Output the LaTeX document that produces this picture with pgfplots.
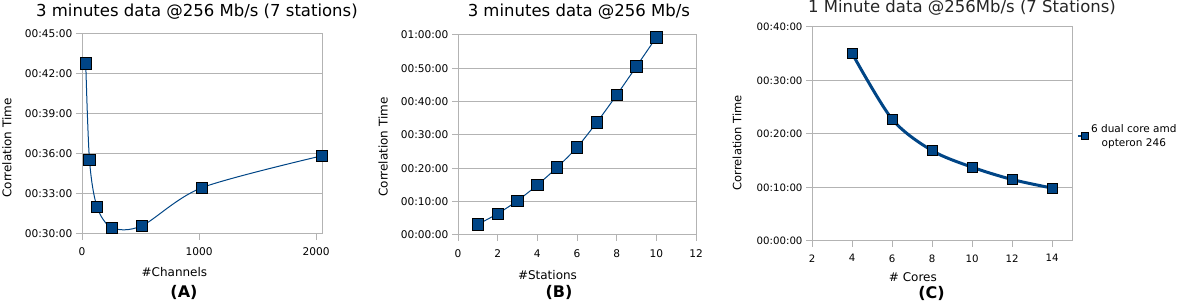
\documentclass[border=0pt]{standalone}
\usepackage{pgfplots}
\pgfplotsset{compat=1.18}
\usepackage{fontspec}
\setmainfont{DejaVu Sans}
\definecolor{ooblue}{HTML}{004586}
\definecolor{oogrid}{HTML}{B3B3B3}
\newcommand{\fs}[1]{\fontsize{#1bp}{#1bp}\selectfont}
\pgfplotsset{
  panel/.style={
    scale only axis, anchor=south west, clip=false,
    axis line style={oogrid, line width=1bp},
    ymajorgrids, grid style={oogrid, line width=1bp},
    major tick style={oogrid, line width=1bp},
    tick align=outside, tick pos=left, major tick length=6bp,
    /pgf/number format/assume math mode=true,
    /pgf/number format/1000 sep={},
    scaled ticks=false,
    tick label style={font=\fs{10.6}, text=black},
    label style={font=\fs{12}},
    title style={font=\fs{16.5}},
  },
  mk/.style={color=ooblue, line width=1bp, smooth, mark=square*,
    mark options={fill=ooblue, draw=black, line width=0.8bp, solid}, mark size=5.7bp},
}
\begin{document}
\begin{tikzpicture}
\path[use as bounding box] (0,0) rectangle (1185bp,305bp);
% ---------------- (A)
\begin{axis}[panel, at={(82bp,71bp)}, width=240bp, height=200bp,
  xmin=0, xmax=2051, ymin=30, ymax=45,
  xtick={0,1000,2000}, ytick={30,33,36,39,42,45},
  yticklabels={00:30:00,00:33:00,00:36:00,00:39:00,00:42:00,00:45:00},
  xticklabel style={yshift=-4bp},
  title={3 minutes data @256 Mb/s (7 stations)},
  title style={at={(axis description cs:0.479,1)}, anchor=center, yshift=16bp},
  xlabel={\#Channels},
  xlabel style={at={(axis description cs:0.385,0)}, anchor=center, yshift=-38bp},
  ylabel={Correlation Time},
  ylabel style={at={(axis description cs:-0.3125,0.43)}, anchor=center},
]
\addplot[mk] coordinates {(32,42.8) (64,35.54) (128,32.05) (256,30.47) (512,30.62) (1024,33.47) (2048,35.86)};
\node[font=\bfseries\fs{16}] at (axis description cs:0.425,0) [yshift=-58bp] {(A)};
\end{axis}
% ---------------- (B)
\begin{axis}[panel, at={(458bp,70bp)}, width=238bp, height=200bp,
  xmin=0, xmax=12, ymin=0, ymax=60,
  xtick={0,2,...,12}, ytick={0,10,...,60},
  yticklabels={00:00:00,00:10:00,00:20:00,00:30:00,00:40:00,00:50:00,01:00:00},
  xticklabel style={yshift=-5bp},
  title={3 minutes data @256 Mb/s},
  title style={at={(axis description cs:0.508,1)}, anchor=center, yshift=17bp},
  xlabel={\#Stations},
  xlabel style={at={(axis description cs:0.376,0)}, anchor=center, yshift=-40bp},
  ylabel={Correlation Time},
  ylabel style={at={(axis description cs:-0.315,0.44)}, anchor=center},
]
\addplot[mk] coordinates {(1,3.2) (2,6.4) (3,10.3) (4,15.0) (5,20.3) (6,26.3) (7,33.8) (8,42.0) (9,50.6) (10,59.3)};
\node[font=\bfseries\fs{16}] at (axis description cs:0.424,0) [yshift=-57bp] {(B)};
\end{axis}
% ---------------- (C)
\begin{axis}[panel, at={(812bp,64bp)}, width=260bp, height=214bp,
  xmin=2, xmax=15, ymin=0, ymax=40,
  xtick={2,4,...,14}, ytick={0,10,...,40},
  tick label style={font=\fs{10.2}},
  yticklabels={00:00:00,00:10:00,00:20:00,00:30:00,00:40:00},
  xticklabel style={yshift=-4bp},
  title={1 Minute data @256Mb/s (7 Stations)},
  title style={at={(axis description cs:0.577,1)}, anchor=center, yshift=13.5bp, text=black!85},
  xlabel={\# Cores},
  xlabel style={at={(axis description cs:0.388,0)}, anchor=center, yshift=-36bp},
  ylabel={Correlation Time},
  ylabel style={at={(axis description cs:-0.288,0.46)}, anchor=center, font=\fs{11.5}},
  legend style={at={(axis description cs:1.017,0.49)}, anchor=west, draw=none, fill=none,
    font=\fontsize{10.5bp}{14.5bp}\selectfont, cells={align=center}, inner sep=0pt},
  legend image code/.code={\draw[mark repeat=2,mark phase=2,#1, mark size=3.6bp, line width=2.5bp] plot coordinates {(0bp,0bp) (7bp,0bp) (10bp,0bp)};},
]
\addplot[mk, line width=3bp, mark size=5bp] coordinates {(4,35.1) (6,22.8) (8,16.9) (10,13.8) (12,11.5) (14,9.9)};
\addlegendentry{6 dual core amd\\opteron 246}
\node[font=\bfseries\fs{16}] at (axis description cs:0.46,0) [yshift=-52bp] {(C)};
\end{axis}
\end{tikzpicture}
\end{document}
